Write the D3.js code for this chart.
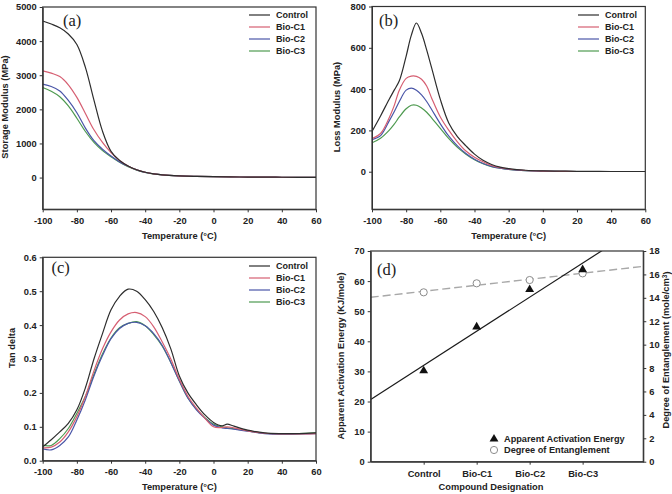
<!DOCTYPE html>
<html><head><meta charset="utf-8">
<script src="https://cdn.jsdelivr.net/npm/d3@7"></script>
<style>
body{margin:0;background:#fff;}
svg{display:block;}
text{font-family:"Liberation Sans",Arial,sans-serif;fill:#222;}
</style>
</head><body>
<svg id="c" width="672" height="494"></svg>
<script>
// ---------- DATA ----------
const seriesNames = ["Control", "Bio-C1", "Bio-C2", "Bio-C3"];
const seriesColors = ["#2d2d2d", "#d65f72", "#4a56a8", "#4e9a50"];

// (a) Storage modulus (MPa)
const tempA = [-100,-95,-90,-85,-80,-75,-70,-65,-60,-55,-50,-45,-40,-35,-30,-20,-10,0,10,20,30,40,50,60];
const storageControl = [4590,4500,4390,4210,3900,3230,2270,1360,770,500,340,230,155,110,80,50,35,25,20,15,12,10,8,7];
const storageC1 = [3130,3060,2960,2720,2350,1880,1400,1030,730,500,340,230,155,110,80,50,35,25,20,15,12,10,8,7];
const storageC2 = [2740,2670,2540,2260,1900,1450,1080,830,630,460,330,225,150,108,78,50,35,25,20,15,12,10,8,7];
const storageC3 = [2640,2530,2370,2100,1740,1350,1030,790,610,450,320,220,150,108,78,50,35,25,20,15,12,10,8,7];

// (b) Loss modulus (MPa)
const tempB = [-100,-95,-90,-87,-84,-80,-77,-74,-71,-68,-65,-60,-55,-50,-45,-40,-35,-30,-25,-20,-10,0,10,20,40,60];
const lossControl = [195,270,350,395,440,560,660,720,670,590,500,350,235,170,125,85,55,35,22,15,7,4,3,2,1,1];
const lossC1 = [160,185,260,320,395,452,463,462,448,415,355,265,200,145,100,70,48,30,20,13,6,3,2,1,1,1];
const lossC2 = [155,175,245,290,340,395,405,395,372,340,300,232,172,125,88,60,40,26,17,11,5,3,2,1,1,1];
const lossC3 = [140,162,200,230,265,305,322,322,308,288,260,210,160,118,85,58,39,25,17,11,5,3,2,1,1,1];

// (c) Tan delta
const tempC = [-100,-95,-90,-85,-80,-75,-70,-65,-60,-55,-50,-45,-40,-35,-30,-25,-20,-15,-10,-5,0,5,8,12,20,30,40,50,60];
const tanControl = [0.041,0.062,0.085,0.110,0.150,0.215,0.300,0.375,0.445,0.485,0.506,0.500,0.475,0.440,0.392,0.330,0.250,0.200,0.165,0.135,0.113,0.103,0.108,0.102,0.090,0.082,0.080,0.080,0.082];
const tanC1 = [0.038,0.040,0.055,0.085,0.130,0.190,0.265,0.330,0.380,0.415,0.433,0.437,0.425,0.395,0.350,0.300,0.240,0.190,0.155,0.125,0.100,0.098,0.100,0.097,0.088,0.081,0.079,0.079,0.080];
const tanC2 = [0.035,0.032,0.045,0.070,0.120,0.180,0.250,0.310,0.360,0.390,0.405,0.408,0.398,0.375,0.340,0.290,0.235,0.185,0.150,0.125,0.105,0.097,0.095,0.093,0.087,0.080,0.078,0.079,0.080];
const tanC3 = [0.045,0.045,0.065,0.095,0.140,0.190,0.255,0.315,0.362,0.392,0.405,0.410,0.398,0.372,0.338,0.290,0.235,0.185,0.152,0.127,0.108,0.100,0.097,0.094,0.088,0.081,0.079,0.080,0.082];

// (d) Activation energy & entanglement
const compounds = ["Control", "Bio-C1", "Bio-C2", "Bio-C3"];
const activationEnergy = [30.2, 44.8, 57.2, 63.8];        // kJ/mole
const entanglement = [14.47, 15.24, 15.52, 16.09];       // mole/cm3

const xTicksT = [-100,-80,-60,-40,-20,0,20,40,60];
const ticksStorage = [0,1000,2000,3000,4000,5000];
const ticksLoss = [0,200,400,600,800];
const ticksTan = [0,0.1,0.2,0.3,0.4,0.5,0.6];
const ticksAE = [0,10,20,30,40,50,60,70];
const ticksEnt = [0,2,4,6,8,10,12,14,16,18];

// ---------- DRAW ----------
const svg = d3.select("#c");
const INK = "#333";
const tickFont = "9.3px";

function styleAxis(g){
  g.selectAll(".domain").attr("stroke", INK).attr("stroke-width", 1);
  g.selectAll(".tick line").attr("stroke", INK).attr("stroke-width", 1);
  g.selectAll(".tick text").style("font-size", tickFont).style("font-weight", "bold").attr("fill", "#222");
}

function frame(b){
  svg.append("rect").attr("x", b.l).attr("y", b.t).attr("width", b.r - b.l).attr("height", b.b - b.t)
    .attr("fill", "none").attr("stroke", INK).attr("stroke-width", 1.2);
}

function boldText(x, y, s, opts = {}){
  const t = svg.append("text").attr("x", x).attr("y", y).text(s)
    .style("font-size", opts.size || "9.3px").style("font-weight", "bold")
    .attr("text-anchor", opts.anchor || "middle").attr("dy", opts.dy || "0.35em");
  if (opts.rotate) t.attr("transform", `rotate(-90,${x},${y})`);
  return t;
}

function tempPanel(b, temps, series, yDomain, yTicks, yFmt, ylabel, label, labelPos, legendPos, ylabelX, ylabelY){
  const x = d3.scaleLinear().domain([-100, 60]).range([b.l, b.r]);
  const y = d3.scaleLinear().domain(yDomain).range([b.b, b.t]);
  const id = "clip" + label.replace(/\W/g, "");
  svg.append("clipPath").attr("id", id).append("rect")
    .attr("x", b.l).attr("y", b.t).attr("width", b.r - b.l).attr("height", b.b - b.t);
  const line = d3.line().x((d, i) => x(temps[i])).y(d => y(d)).curve(d3.curveCatmullRom.alpha(0.5));
  // draw back to front so Control is on top
  [3, 2, 1, 0].forEach(k => {
    svg.append("path").attr("d", line(series[k])).attr("fill", "none")
      .attr("stroke", seriesColors[k]).attr("stroke-width", 1.2).attr("clip-path", `url(#${id})`);
  });
  const gx = svg.append("g").attr("transform", `translate(0,${b.b})`)
    .call(d3.axisBottom(x).tickValues(xTicksT).tickFormat(d => String(d)).tickSize(3).tickSizeOuter(0).tickPadding(5));
  styleAxis(gx);
  const gy = svg.append("g").attr("transform", `translate(${b.l},0)`)
    .call(d3.axisLeft(y).tickValues(yTicks).tickFormat(yFmt).tickSize(3).tickSizeOuter(0).tickPadding(3));
  styleAxis(gy);
  frame(b);
  // axis titles
  boldText((b.l + b.r) / 2, b.b + 26, "Temperature (°C)");
  boldText(ylabelX, ylabelY, ylabel, {rotate: true});
  // panel label
  svg.append("text").attr("x", labelPos[0]).attr("y", labelPos[1]).text(label)
    .style("font-family", '"Liberation Serif","Times New Roman",serif').style("font-size", "16.5px");
  // legend
  seriesNames.forEach((n, k) => {
    const yy = legendPos[1] + k * 12;
    svg.append("line").attr("x1", legendPos[0]).attr("x2", legendPos[0] + 21).attr("y1", yy).attr("y2", yy)
      .attr("stroke", seriesColors[k]).attr("stroke-width", 1.2);
    boldText(legendPos[0] + 27, yy, n, {anchor: "start", size: "9px"});
  });
}

// (a)
tempPanel({l: 42.7, r: 316, t: 7, b: 209.3}, tempA,
  [storageControl, storageC1, storageC2, storageC3], [-930, 5000], ticksStorage, d => String(d),
  "Storage Modulus (MPa)", "(a)", [63, 26], [249, 15], 5, 107);

// (b)
tempPanel({l: 372, r: 645.3, t: 6.5, b: 209.3}, tempB,
  [lossControl, lossC1, lossC2, lossC3], [-182, 800], ticksLoss, d => String(d),
  "Loss Modulus (MPa)", "(b)", [379, 26], [578, 15], 337, 107);

// (c)
tempPanel({l: 42.7, r: 316, t: 257.3, b: 460.7}, tempC,
  [tanControl, tanC1, tanC2, tanC3], [0, 0.6], ticksTan, d => d3.format(".1f")(d),
  "Tan delta", "(c)", [51.5, 273], [249, 266], 12, 348);

// (d)
(function(){
  const b = {l: 370.7, r: 643.3, t: 251, b: 461.7};
  const x = d3.scaleLinear().domain([0, 5.145]).range([b.l, b.r]);
  const yL = d3.scaleLinear().domain([0, 70]).range([b.b, b.t]);
  const yR = d3.scaleLinear().domain([0, 18]).range([b.b, b.t]);
  const xs = compounds.map((c, i) => i + 1);
  svg.append("clipPath").attr("id", "clipd").append("rect")
    .attr("x", b.l).attr("y", b.t).attr("width", b.r - b.l).attr("height", b.b - b.t);

  function fit(vals){
    const mx = d3.mean(xs), my = d3.mean(vals);
    const sxy = d3.sum(xs, (v, i) => (v - mx) * (vals[i] - my));
    const sxx = d3.sum(xs, v => (v - mx) * (v - mx));
    const s = sxy / sxx;
    return [my - s * mx, s];
  }
  const fe = fit(entanglement);
  const fa = fit(activationEnergy);
  const xd = x.domain();
  // dashed entanglement regression
  svg.append("line").attr("clip-path", "url(#clipd)")
    .attr("x1", x(xd[0])).attr("y1", yR(fe[0] + fe[1] * xd[0]))
    .attr("x2", x(xd[1])).attr("y2", yR(fe[0] + fe[1] * xd[1]))
    .attr("stroke", "#a8a8a8").attr("stroke-width", 1.4).attr("stroke-dasharray", "8,4");
  // solid activation regression
  svg.append("line").attr("clip-path", "url(#clipd)")
    .attr("x1", x(xd[0])).attr("y1", yL(fa[0] + fa[1] * xd[0]))
    .attr("x2", x(xd[1])).attr("y2", yL(fa[0] + fa[1] * xd[1]))
    .attr("stroke", "#1a1a1a").attr("stroke-width", 1.2);
  // circles
  svg.selectAll(".ent").data(entanglement).enter().append("circle")
    .attr("cx", (d, i) => x(xs[i])).attr("cy", d => yR(d)).attr("r", 3.6)
    .attr("fill", "#fff").attr("stroke", "#8c8c8c").attr("stroke-width", 1);
  // triangles
  const tri = d3.symbol().type(d3.symbolTriangle).size(34);
  svg.selectAll(".ae").data(activationEnergy).enter().append("path")
    .attr("d", tri).attr("transform", (d, i) => `translate(${x(xs[i])},${yL(d)})`).attr("fill", "#111");

  const gx = svg.append("g").attr("transform", `translate(0,${b.b})`)
    .call(d3.axisBottom(x).tickValues(xs).tickFormat((d, i) => compounds[i]).tickSize(3).tickSizeOuter(0).tickPadding(6));
  styleAxis(gx);
  const gy = svg.append("g").attr("transform", `translate(${b.l},0)`)
    .call(d3.axisLeft(yL).tickValues(ticksAE).tickSize(3).tickSizeOuter(0).tickPadding(3));
  styleAxis(gy);
  const gr = svg.append("g").attr("transform", `translate(${b.r},0)`)
    .call(d3.axisRight(yR).tickValues(ticksEnt).tickSize(3).tickSizeOuter(0).tickPadding(3));
  styleAxis(gr);
  frame(b);

  boldText(491, 487, "Compound Designation");
  boldText(341, 356, "Apparent Activation Energy (KJ/mole)", {rotate: true});
  const rl = boldText(666, 350, "", {rotate: true});
  rl.append("tspan").text("Degree of Entanglement (mole/cm");
  rl.append("tspan").text("3").attr("dy", "-0.4em").style("font-size", "6.5px");
  rl.append("tspan").text(")").attr("dy", "0.4em");

  svg.append("text").attr("x", 377).attr("y", 275).text("(d)")
    .style("font-family", '"Liberation Serif","Times New Roman",serif').style("font-size", "16.5px");

  // legend
  svg.append("path").attr("d", tri).attr("transform", "translate(494,439)").attr("fill", "#111");
  boldText(504, 439, "Apparent Activation Energy", {anchor: "start", size: "9.2px"});
  svg.append("circle").attr("cx", 494).attr("cy", 450).attr("r", 3.6)
    .attr("fill", "#fff").attr("stroke", "#8c8c8c").attr("stroke-width", 1);
  boldText(504, 450, "Degree of Entanglement", {anchor: "start", size: "9.2px"});
})();
</script>
</body></html>
